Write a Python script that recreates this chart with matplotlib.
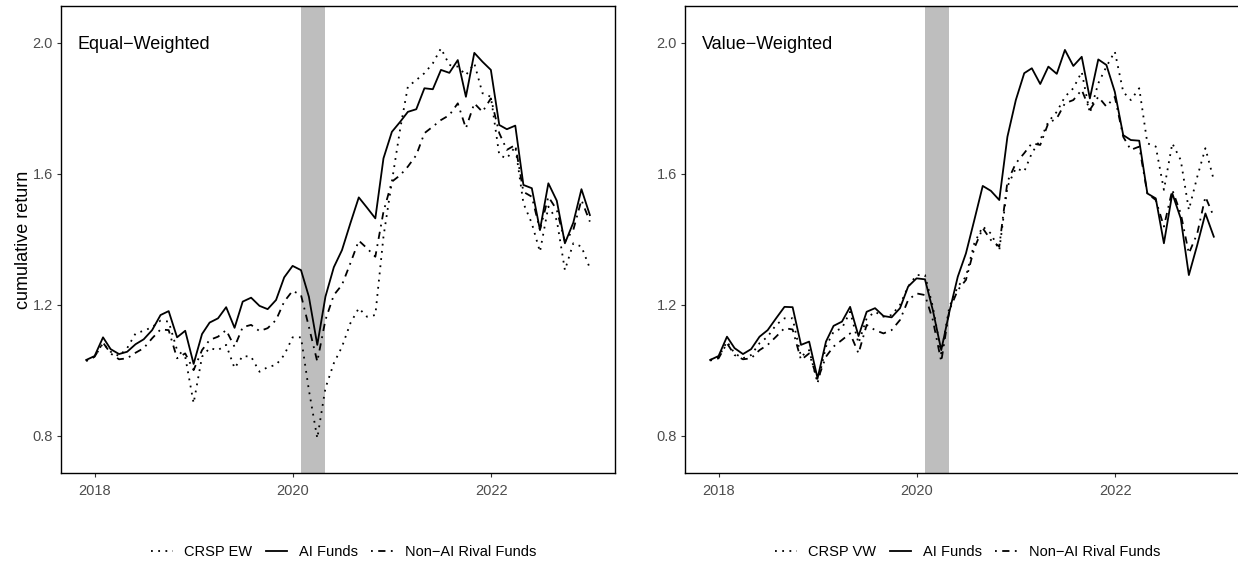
import numpy as np
import pandas as pd
import matplotlib
matplotlib.use("Agg")
import matplotlib.pyplot as plt
import matplotlib.dates as mdates

plt.rcParams['font.family'] = ['Liberation Sans', 'DejaVu Sans']

# monthly dates (month end), Nov 2017 - Dec 2022
dates = pd.date_range('2017-11-30', periods=62, freq='ME')

# Equal-weighted panel
crsp_ew = [1.029, 1.042, 1.083, 1.057, 1.044, 1.068, 1.113, 1.121, 1.132, 1.152,
           1.149, 1.062, 1.042, 0.900, 1.042, 1.068, 1.062, 1.078, 1.007, 1.044,
           1.042, 0.996, 1.010, 1.017, 1.047, 1.101, 1.101, 0.940, 0.793, 0.946,
           1.022, 1.072, 1.144, 1.190, 1.164, 1.169, 1.408, 1.576, 1.739, 1.866,
           1.886, 1.907, 1.937, 1.983, 1.932, 1.927, 1.901, 1.937, 1.846, 1.835,
           1.657, 1.647, 1.683, 1.510, 1.449, 1.362, 1.500, 1.459, 1.306, 1.388,
           1.378, 1.312]
ai_ew = [1.032, 1.044, 1.101, 1.065, 1.050, 1.057, 1.080, 1.095, 1.123, 1.169,
         1.181, 1.101, 1.121, 1.020, 1.111, 1.146, 1.159, 1.193, 1.130, 1.210,
         1.222, 1.197, 1.187, 1.215, 1.284, 1.319, 1.306, 1.225, 1.078, 1.225,
         1.315, 1.367, 1.449, 1.528, 1.497, 1.464, 1.647, 1.728, 1.759, 1.789,
         1.797, 1.861, 1.858, 1.917, 1.908, 1.947, 1.835, 1.969, 1.942, 1.917,
         1.749, 1.736, 1.747, 1.566, 1.556, 1.429, 1.571, 1.518, 1.388, 1.451,
         1.553, 1.474]
rival_ew = [1.029, 1.042, 1.085, 1.052, 1.034, 1.037, 1.054, 1.068, 1.098, 1.125,
            1.123, 1.037, 1.052, 1.001, 1.062, 1.093, 1.103, 1.123, 1.072, 1.132,
            1.139, 1.120, 1.129, 1.154, 1.210, 1.243, 1.230, 1.133, 1.027, 1.154,
            1.230, 1.261, 1.327, 1.396, 1.373, 1.347, 1.484, 1.576, 1.596, 1.622,
            1.657, 1.724, 1.744, 1.764, 1.779, 1.815, 1.739, 1.815, 1.789, 1.830,
            1.724, 1.673, 1.688, 1.545, 1.530, 1.429, 1.530, 1.490, 1.393, 1.429,
            1.520, 1.454]

# Value-weighted panel
crsp_vw = [1.032, 1.041, 1.088, 1.052, 1.037, 1.047, 1.083, 1.103, 1.139, 1.159,
           1.159, 1.042, 1.062, 0.961, 1.073, 1.118, 1.129, 1.179, 1.083, 1.159,
           1.179, 1.164, 1.169, 1.200, 1.256, 1.291, 1.291, 1.194, 1.052, 1.194,
           1.256, 1.286, 1.388, 1.439, 1.418, 1.367, 1.561, 1.617, 1.607, 1.663,
           1.703, 1.759, 1.789, 1.835, 1.861, 1.911, 1.785, 1.876, 1.927, 1.973,
           1.850, 1.825, 1.861, 1.693, 1.683, 1.551, 1.693, 1.642, 1.490, 1.591,
           1.678, 1.581]
ai_vw = [1.032, 1.044, 1.103, 1.068, 1.050, 1.065, 1.103, 1.123, 1.159, 1.194,
         1.193, 1.078, 1.088, 0.976, 1.088, 1.136, 1.149, 1.194, 1.105, 1.179,
         1.190, 1.166, 1.162, 1.190, 1.256, 1.281, 1.278, 1.184, 1.062, 1.179,
         1.286, 1.357, 1.459, 1.563, 1.548, 1.520, 1.713, 1.825, 1.907, 1.922,
         1.874, 1.927, 1.905, 1.978, 1.929, 1.957, 1.830, 1.949, 1.932, 1.850,
         1.718, 1.703, 1.701, 1.540, 1.525, 1.388, 1.540, 1.464, 1.291, 1.383,
         1.479, 1.408]
rival_vw = [1.030, 1.037, 1.083, 1.047, 1.034, 1.037, 1.062, 1.078, 1.103, 1.129,
            1.125, 1.032, 1.052, 0.971, 1.042, 1.073, 1.093, 1.113, 1.052, 1.139,
            1.123, 1.113, 1.123, 1.154, 1.215, 1.235, 1.230, 1.154, 1.027, 1.184,
            1.245, 1.276, 1.373, 1.434, 1.398, 1.378, 1.576, 1.632, 1.663, 1.693,
            1.688, 1.755, 1.769, 1.815, 1.825, 1.856, 1.795, 1.835, 1.805, 1.835,
            1.713, 1.673, 1.683, 1.540, 1.520, 1.439, 1.551, 1.479, 1.357, 1.418,
            1.530, 1.469]

# covid recession shading
shade_start = pd.Timestamp('2020-02-01')
shade_end = pd.Timestamp('2020-04-30')

panels = [
    ("Equal\u2212Weighted", "CRSP EW", crsp_ew, ai_ew, rival_ew),
    ("Value\u2212Weighted", "CRSP VW", crsp_vw, ai_vw, rival_vw),
]

fig = plt.figure(figsize=(12.38, 5.71), dpi=100)
ax_pos = [[0.0493, 0.1716, 0.4475, 0.8179], [0.5533, 0.1716, 0.4475, 0.8179]]

span = dates[-1] - dates[0]
xlo = dates[0] - span * 0.05
xhi = dates[-1] + span * 0.05

for k, (title, mkt_name, mkt, ai, rival) in enumerate(panels):
    ax = fig.add_axes(ax_pos[k])
    ax.axvspan(shade_start, shade_end, color='#BEBEBE', lw=0, zorder=1)
    ax.plot(dates, mkt, color='black', lw=1.3, ls=(0, (1, 3)), label=mkt_name, zorder=3)
    ax.plot(dates, ai, color='black', lw=1.3, ls='-', label='AI Funds', zorder=3)
    ax.plot(dates, rival, color='black', lw=1.3, ls=(0, (1, 3, 4, 3)),
            label='Non\u2212AI Rival Funds', zorder=3)

    ax.set_xlim(xlo, xhi)
    ax.set_ylim(0.687, 2.112)
    ax.set_yticks([0.8, 1.2, 1.6, 2.0])
    ax.set_yticklabels(['0.8', '1.2', '1.6', '2.0'])
    ax.xaxis.set_major_locator(mdates.YearLocator(2))
    ax.xaxis.set_major_formatter(mdates.DateFormatter('%Y'))
    ax.tick_params(axis='both', direction='out', length=3, width=0.8, color='#333333',
                   labelcolor='#4D4D4D', labelsize=10.5, pad=3)
    ax.tick_params(axis='x', pad=5)
    for sp in ax.spines.values():
        sp.set_color('black')
        sp.set_linewidth(1.0)

    ax.text(0.03, 0.917, title, transform=ax.transAxes, fontsize=13,
            ha='left', va='center', color='black')
    if k == 0:
        ax.set_ylabel('cumulative return', fontsize=13, labelpad=0)

    ax.legend(loc='center', bbox_to_anchor=(0.51, -0.169), ncol=3, frameon=False,
              fontsize=10.5, handlelength=1.5, handletextpad=0.8, columnspacing=0.9)

fig.savefig('out.png', dpi=100)
